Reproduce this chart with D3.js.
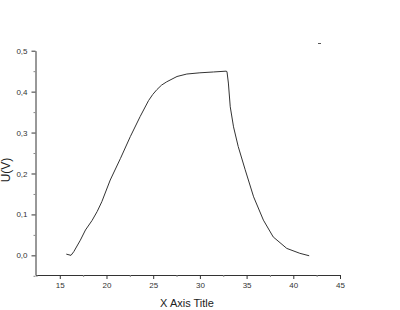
<!DOCTYPE html>
<html>
<head>
<meta charset="utf-8">
<script src="https://cdn.jsdelivr.net/npm/d3@7"></script>
<style>
  body { margin: 0; background: #fff; }
  text { font-family: "Liberation Sans", Arial, sans-serif; }
</style>
</head>
<body>
<div id="chart"></div>
<script>
// Curve data
const xValues = [15.7, 16.2, 16.5, 17.2, 17.75, 18.45, 19.0, 19.5, 20.4, 21.5, 22.55, 23.6, 24.5, 24.95, 25.4, 25.9, 26.45, 27.55, 28.6, 30.0, 31.45, 32.8, 32.9, 33.05, 33.25, 33.6, 34.1, 34.85, 35.75, 36.8, 37.85, 39.3, 40.7, 41.7];
const yValues = [0.003, 0.0, 0.009, 0.037, 0.062, 0.085, 0.107, 0.131, 0.184, 0.237, 0.29, 0.339, 0.378, 0.393, 0.405, 0.416, 0.424, 0.437, 0.443, 0.446, 0.448, 0.450, 0.449, 0.421, 0.363, 0.314, 0.266, 0.209, 0.143, 0.086, 0.045, 0.017, 0.005, -0.001];
const xTicks = [15, 20, 25, 30, 35, 40, 45];
const yTicks = [0, 0.1, 0.2, 0.3, 0.4, 0.5];

const data = xValues.map((x, i) => ({x: x, y: yValues[i]}));

const width = 400, height = 310;
const svg = d3.select("#chart")
  .append("svg")
  .attr("width", width)
  .attr("height", height);

// Scales
const x = d3.scaleLinear()
    .domain([12.4, 45])
    .range([35.5, 340]);

const y = d3.scaleLinear()
    .domain([-0.048, 0.5])
    .range([275, 50.7]);

const fmt = d => d3.format(".1f")(d).replace(".", ",");

// X axis (major + minor)
svg.append("g")
    .attr("transform", "translate(0,275)")
    .call(d3.axisBottom(x).tickValues(xTicks).tickSize(4).tickSizeOuter(0).tickPadding(3))
    .call(g => g.selectAll("text").attr("font-size", 8).attr("fill", "#333").attr("font-family", "Liberation Sans, Arial, sans-serif"))
    .call(g => g.selectAll("line, path").attr("stroke", "#333"));

svg.append("g")
    .attr("transform", "translate(0,275)")
    .call(d3.axisBottom(x).tickValues(d3.range(12.5, 45, 5)).tickSize(2).tickFormat(""))
    .call(g => g.select(".domain").remove())
    .call(g => g.selectAll("line").attr("stroke", "#888"));

// Y axis (major + minor)
svg.append("g")
    .attr("transform", "translate(35.5,0)")
    .call(d3.axisLeft(y).tickValues(yTicks).tickFormat(fmt).tickSize(4).tickSizeOuter(0).tickPadding(4))
    .call(g => g.selectAll("text").attr("font-size", 8).attr("fill", "#333").attr("font-family", "Liberation Sans, Arial, sans-serif"))
    .call(g => g.selectAll("line, path").attr("stroke", "#333"));

svg.append("g")
    .attr("transform", "translate(35.5,0)")
    .call(d3.axisLeft(y).tickValues([-0.05, 0.05, 0.15, 0.25, 0.35, 0.45]).tickSize(2).tickFormat(""))
    .call(g => g.select(".domain").remove())
    .call(g => g.selectAll("line").attr("stroke", "#888"));

// Axis titles
svg.append("text")
    .attr("x", 187)
    .attr("y", 307)
    .attr("text-anchor", "middle")
    .attr("font-size", 11)
    .attr("fill", "#222")
    .text("X Axis Title");

svg.append("text")
    .attr("transform", "translate(10,170) rotate(-90)")
    .attr("text-anchor", "middle")
    .attr("font-size", 12)
    .attr("fill", "#222")
    .text("U(V)");

// Small legend remnant at top right
svg.append("line")
    .attr("x1", 318).attr("x2", 321)
    .attr("y1", 43.5).attr("y2", 43.5)
    .attr("stroke", "#555");

// Curve
const line = d3.line()
    .x(d => x(d.x))
    .y(d => y(d.y));

svg.append("path")
    .datum(data)
    .attr("fill", "none")
    .attr("stroke", "#333")
    .attr("stroke-width", 1)
    .attr("d", line);
</script>
</body>
</html>
